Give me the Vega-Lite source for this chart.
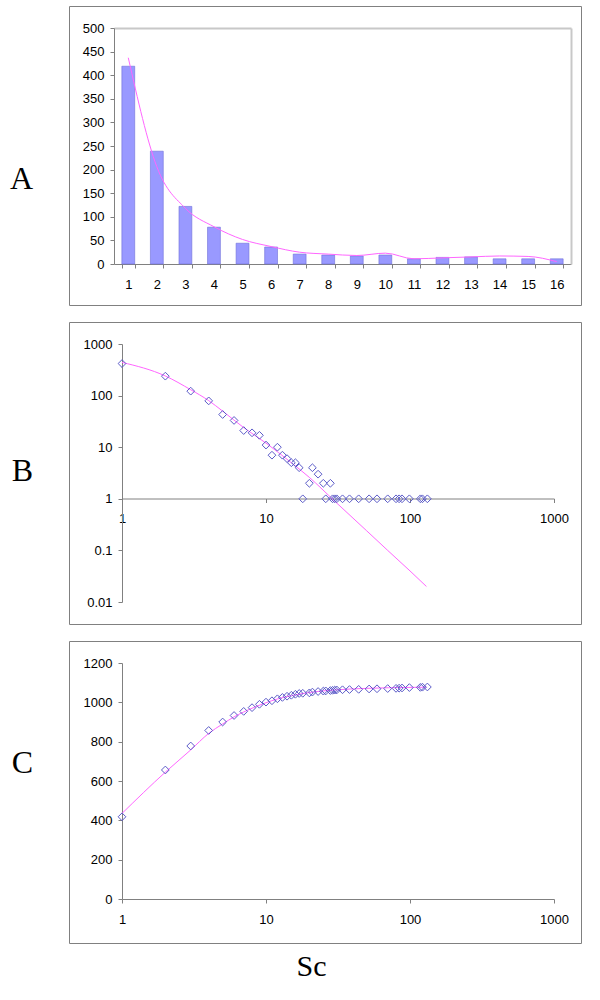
{
  "$schema": "https://vega.github.io/schema/vega-lite/v6.json",
  "background": "white",
  "padding": {"left": 9, "top": 5, "right": 5, "bottom": 5},
  "spacing": 15,
  "config": {
    "view": {"stroke": "#808080", "strokeWidth": 1},
    "axis": {
      "labelFont": "Liberation Sans",
      "labelFontSize": 13,
      "labelColor": "#000000",
      "domainColor": "#808080",
      "tickColor": "#808080",
      "tickSize": 4,
      "grid": false,
      "labelFlush": false,
      "labelOverlap": false,
      "labelBound": false
    },
    "line": {"stroke": "#FF66FF", "strokeWidth": 1}
  },
  "title": {
    "text": "Sc",
    "orient": "bottom",
    "anchor": "middle",
    "font": "Liberation Serif",
    "fontSize": 30,
    "fontWeight": "normal",
    "color": "#000000",
    "baseline": "alphabetic",
    "offset": 32,
    "dx": 16
  },
  "vconcat": [
    {
      "width": 512,
      "height": 299,
      "title": {"text": "A", "orient": "left", "angle": 0, "align": "left", "baseline": "middle", "offset": 36, "dy": 23, "font": "Liberation Serif", "fontSize": 32, "fontWeight": "normal", "color": "#000000"},
      "data": {"values": [
        {"Sc": 1, "count": 419, "trend": 437},
        {"Sc": 2, "count": 239, "trend": 206},
        {"Sc": 3, "count": 122, "trend": 118},
        {"Sc": 4, "count": 78, "trend": 79},
        {"Sc": 5, "count": 44, "trend": 52},
        {"Sc": 6, "count": 36, "trend": 37},
        {"Sc": 7, "count": 21, "trend": 25},
        {"Sc": 8, "count": 19, "trend": 21},
        {"Sc": 9, "count": 17, "trend": 18},
        {"Sc": 10, "count": 19, "trend": 23},
        {"Sc": 11, "count": 11, "trend": 11},
        {"Sc": 12, "count": 14, "trend": 13},
        {"Sc": 13, "count": 15, "trend": 15},
        {"Sc": 14, "count": 11, "trend": 17},
        {"Sc": 15, "count": 11, "trend": 16},
        {"Sc": 16, "count": 11, "trend": 5}
      ]},
      "layer": [
        {
          "mark": {"type": "bar", "fill": "#9999FF", "stroke": "#6F6FD8", "strokeWidth": 0.6},
          "encoding": {
            "x": {"field": "Sc", "type": "ordinal", "sort": null,
              "scale": {"range": [45, 502], "paddingInner": 0.55, "paddingOuter": 0.275},
              "axis": {"orient": "bottom", "offset": -41, "labelAngle": 0, "tickBand": "extent", "labelPadding": 10, "title": null}},
            "y": {"field": "count", "type": "quantitative",
              "scale": {"domain": [0, 500], "range": [258, 22], "nice": false},
              "axis": {"orient": "left", "offset": -45, "values": [0, 50, 100, 150, 200, 250, 300, 350, 400, 450, 500], "format": "d", "labelPadding": 6, "title": null}}
          }
        },
        {
          "mark": {"type": "line", "interpolate": "monotone"},
          "encoding": {
            "x": {"field": "Sc", "type": "ordinal", "sort": null,
              "axis": {"orient": "top", "offset": -22, "labels": false, "ticks": false, "domainColor": "#C8C8C8", "domainWidth": 2, "title": null}},
            "y": {"field": "trend", "type": "quantitative",
              "axis": {"orient": "right", "offset": -10, "labels": false, "ticks": false, "domainColor": "#C8C8C8", "domainWidth": 2, "title": null}}
          }
        }
      ],
      "resolve": {"axis": {"x": "independent", "y": "independent"}}
    },
    {
      "width": 512,
      "height": 302,
      "title": {"text": "B", "orient": "left", "angle": 0, "align": "left", "baseline": "middle", "offset": 36, "dy": -2, "font": "Liberation Serif", "fontSize": 32, "fontWeight": "normal", "color": "#000000"},
      "layer": [
        {
          "data": {"values": [
            {"x": 1, "y": 440}, {"x": 2, "y": 240}, {"x": 3, "y": 130}, {"x": 4, "y": 80},
            {"x": 5, "y": 50}, {"x": 7, "y": 24}, {"x": 10, "y": 12}, {"x": 15, "y": 5},
            {"x": 20, "y": 2.6}, {"x": 30, "y": 0.9}, {"x": 50, "y": 0.24}, {"x": 70, "y": 0.1},
            {"x": 100, "y": 0.04}, {"x": 130, "y": 0.02}
          ]},
          "mark": {"type": "line", "interpolate": "monotone"},
          "encoding": {
            "x": {"field": "x", "type": "quantitative",
              "scale": {"type": "log", "domain": [1, 1000], "range": [53, 485], "nice": false},
              "axis": {"orient": "bottom", "offset": -125.5, "values": [1, 10, 100, 1000], "format": "~g", "labelPadding": 10, "title": null}},
            "y": {"field": "y", "type": "quantitative",
              "scale": {"type": "log", "domain": [0.01, 1000], "range": [280, 22], "nice": false},
              "axis": {"orient": "left", "offset": -53, "values": [0.01, 0.1, 1, 10, 100, 1000], "format": "~g", "labelPadding": 6, "title": null}}
          }
        },
        {
          "data": {"values": [
            {"x": 1, "y": 418}, {"x": 2, "y": 238}, {"x": 3, "y": 122}, {"x": 4, "y": 79},
            {"x": 5, "y": 43}, {"x": 6, "y": 33}, {"x": 7, "y": 21}, {"x": 8, "y": 19},
            {"x": 9, "y": 17}, {"x": 10, "y": 11}, {"x": 11, "y": 7}, {"x": 12, "y": 10},
            {"x": 13, "y": 7}, {"x": 14, "y": 6}, {"x": 15, "y": 5}, {"x": 16, "y": 5},
            {"x": 17, "y": 4}, {"x": 18, "y": 1}, {"x": 20, "y": 2}, {"x": 21, "y": 4},
            {"x": 23, "y": 3}, {"x": 25, "y": 2}, {"x": 26, "y": 1}, {"x": 28, "y": 2},
            {"x": 29, "y": 1}, {"x": 30, "y": 1}, {"x": 31, "y": 1}, {"x": 34, "y": 1},
            {"x": 38, "y": 1}, {"x": 44, "y": 1}, {"x": 52, "y": 1}, {"x": 59, "y": 1},
            {"x": 70, "y": 1}, {"x": 80, "y": 1}, {"x": 84, "y": 1}, {"x": 88, "y": 1},
            {"x": 99, "y": 1}, {"x": 118, "y": 1}, {"x": 122, "y": 1}, {"x": 132, "y": 1}
          ]},
          "mark": {"type": "point", "shape": "diamond", "filled": false, "stroke": "#5B5BC8", "strokeWidth": 1, "size": 60, "opacity": 1},
          "encoding": {
            "x": {"field": "x", "type": "quantitative"},
            "y": {"field": "y", "type": "quantitative"}
          }
        }
      ]
    },
    {
      "width": 512,
      "height": 302,
      "title": {"text": "C", "orient": "left", "angle": 0, "align": "left", "baseline": "middle", "offset": 36, "dy": -29, "font": "Liberation Serif", "fontSize": 32, "fontWeight": "normal", "color": "#000000"},
      "layer": [
        {
          "data": {"values": [
            {"x": 1, "y": 435}, {"x": 2, "y": 645}, {"x": 3, "y": 758}, {"x": 4, "y": 842},
            {"x": 5, "y": 890}, {"x": 6, "y": 926}, {"x": 7, "y": 951}, {"x": 8, "y": 970},
            {"x": 10, "y": 998}, {"x": 12, "y": 1017}, {"x": 15, "y": 1034}, {"x": 20, "y": 1050},
            {"x": 30, "y": 1063}, {"x": 50, "y": 1071}, {"x": 100, "y": 1076}, {"x": 130, "y": 1077}
          ]},
          "mark": {"type": "line", "interpolate": "monotone"},
          "encoding": {
            "x": {"field": "x", "type": "quantitative",
              "scale": {"type": "log", "domain": [1, 1000], "range": [53, 485], "nice": false},
              "axis": {"orient": "bottom", "offset": -44, "values": [1, 10, 100, 1000], "format": "~g", "labelPadding": 10, "title": null}},
            "y": {"field": "y", "type": "quantitative",
              "scale": {"domain": [0, 1200], "range": [258, 22], "nice": false},
              "axis": {"orient": "left", "offset": -53, "values": [0, 200, 400, 600, 800, 1000, 1200], "format": "d", "labelPadding": 6, "title": null}}
          }
        },
        {
          "data": {"values": [
            {"x": 1, "y": 418}, {"x": 2, "y": 656}, {"x": 3, "y": 778}, {"x": 4, "y": 857},
            {"x": 5, "y": 900}, {"x": 6, "y": 933}, {"x": 7, "y": 954}, {"x": 8, "y": 973},
            {"x": 9, "y": 990}, {"x": 10, "y": 1001}, {"x": 11, "y": 1008}, {"x": 12, "y": 1018},
            {"x": 13, "y": 1025}, {"x": 14, "y": 1031}, {"x": 15, "y": 1036}, {"x": 16, "y": 1041},
            {"x": 17, "y": 1045}, {"x": 18, "y": 1046}, {"x": 20, "y": 1048}, {"x": 21, "y": 1052},
            {"x": 23, "y": 1055}, {"x": 25, "y": 1057}, {"x": 26, "y": 1058}, {"x": 28, "y": 1060},
            {"x": 29, "y": 1061}, {"x": 30, "y": 1062}, {"x": 31, "y": 1063}, {"x": 34, "y": 1064},
            {"x": 38, "y": 1065}, {"x": 44, "y": 1066}, {"x": 52, "y": 1068}, {"x": 59, "y": 1069},
            {"x": 70, "y": 1070}, {"x": 80, "y": 1071}, {"x": 84, "y": 1072}, {"x": 88, "y": 1073},
            {"x": 99, "y": 1075}, {"x": 118, "y": 1076}, {"x": 122, "y": 1077}, {"x": 132, "y": 1078}
          ]},
          "mark": {"type": "point", "shape": "diamond", "filled": false, "stroke": "#5B5BC8", "strokeWidth": 1, "size": 60, "opacity": 1},
          "encoding": {
            "x": {"field": "x", "type": "quantitative"},
            "y": {"field": "y", "type": "quantitative"}
          }
        }
      ]
    }
  ]
}
